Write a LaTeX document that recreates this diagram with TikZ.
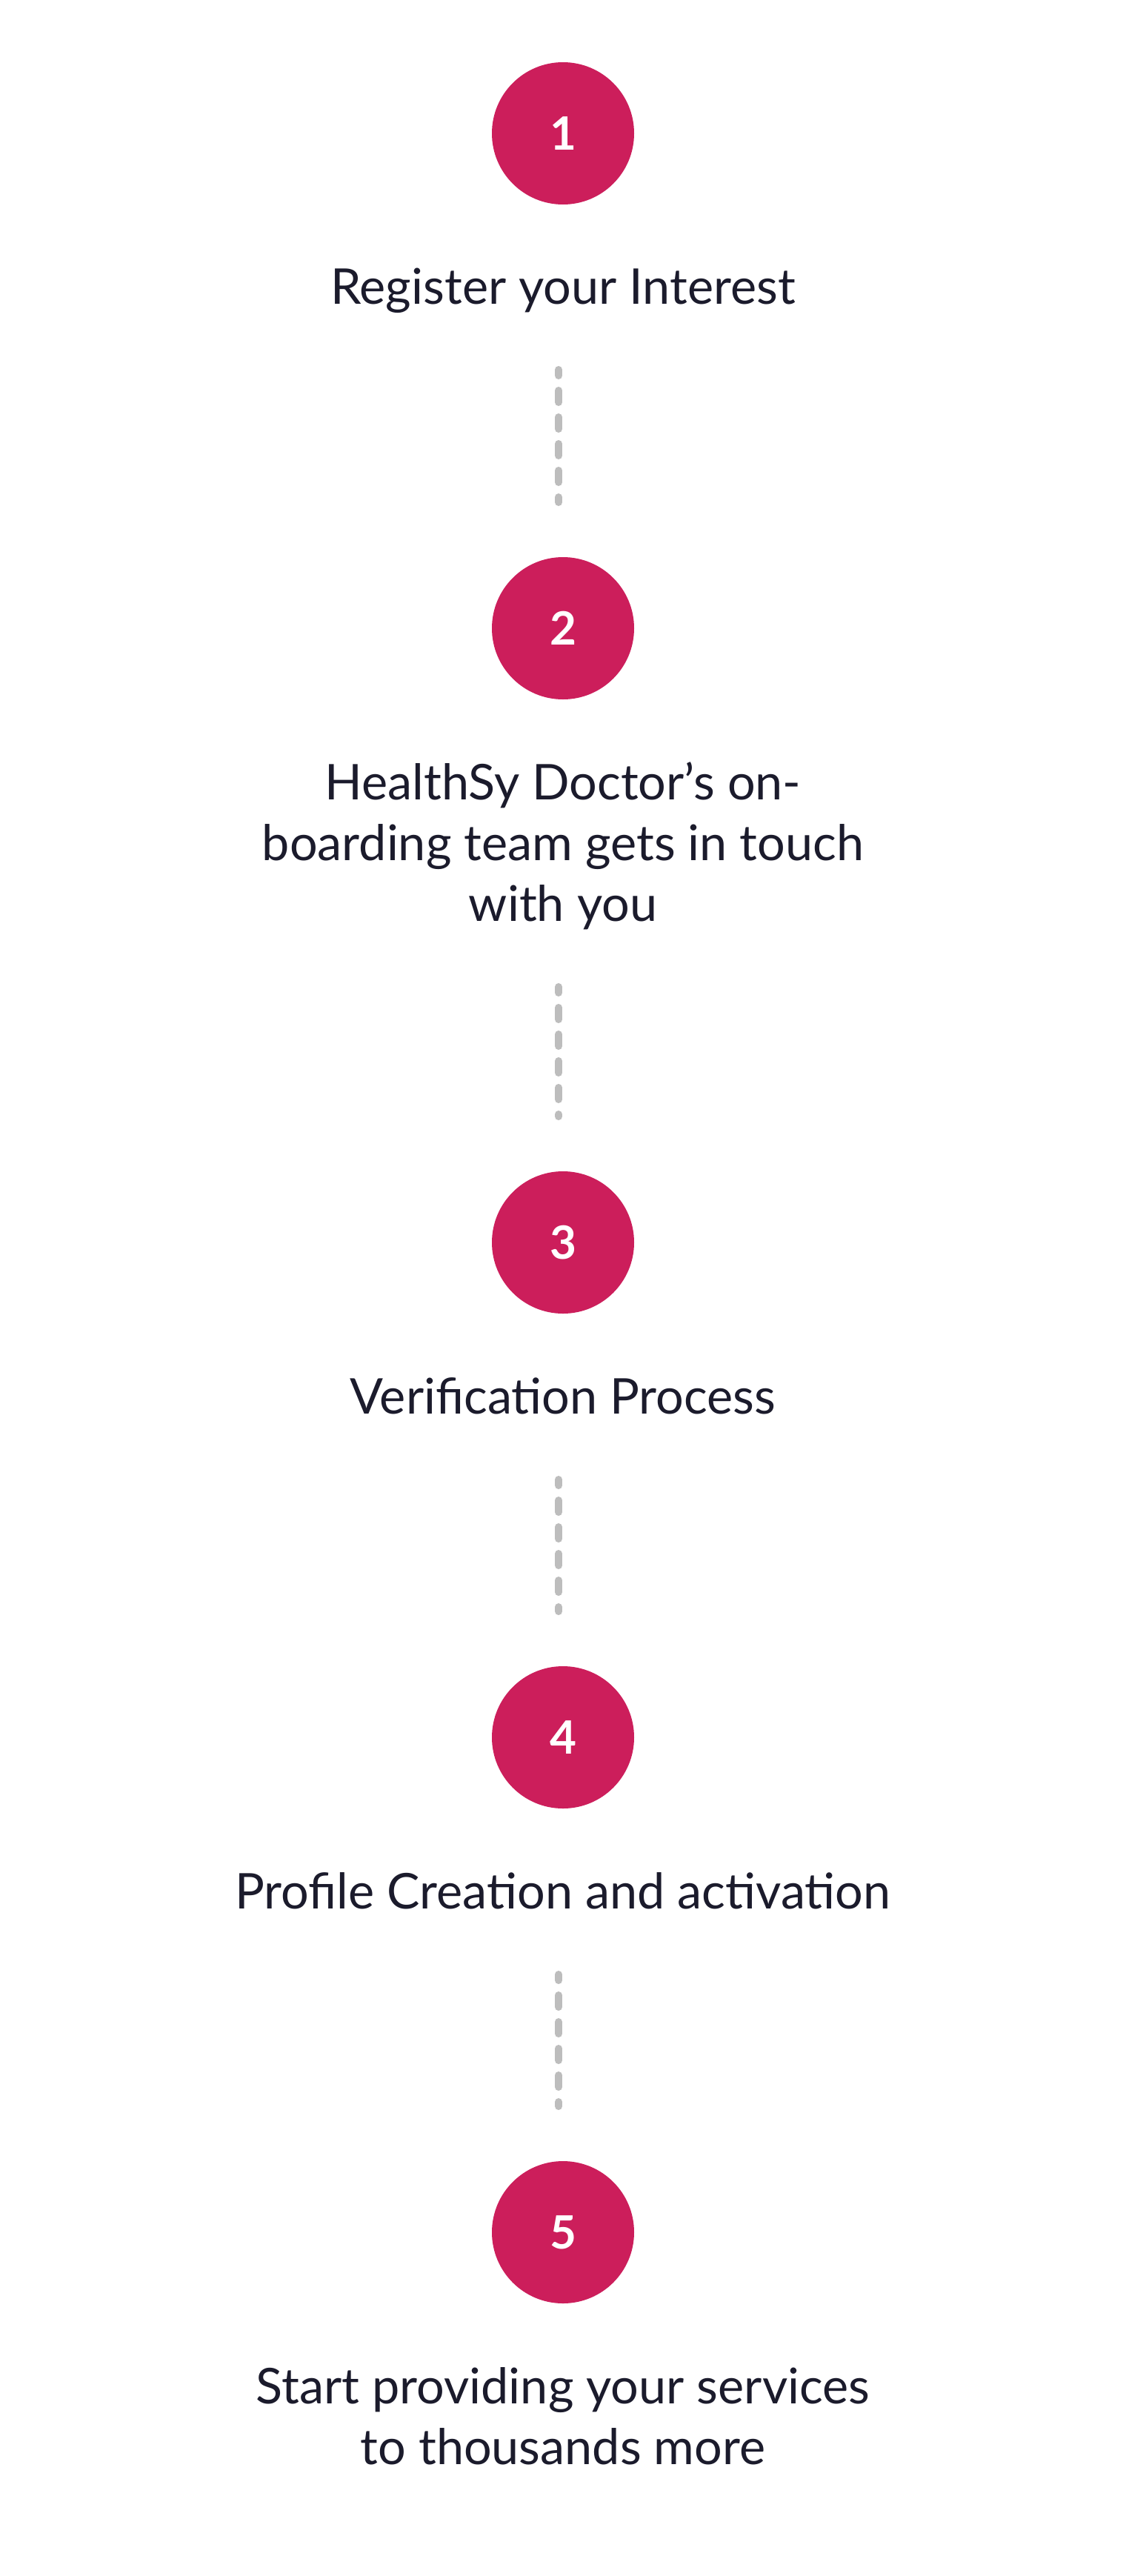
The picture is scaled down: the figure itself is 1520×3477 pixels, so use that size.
\documentclass[tikz,border=0pt]{standalone}
\usepackage{fontspec}
\setmainfont{Lato}
\newfontfamily\numfont{Lato}
\usetikzlibrary{calc}
\definecolor{pink}{RGB}{204,30,91}
\definecolor{ink}{RGB}{27,27,44}
\definecolor{dashgray}{RGB}{189,189,189}
\begin{document}
\begin{tikzpicture}[x=1pt,y=-1pt,
  stepcircle/.style={circle,fill=pink,draw=none,minimum size=192pt,inner sep=0pt},
  stepnum/.style={text=white,font=\numfont\bfseries\fontsize{62}{62}\selectfont,inner sep=0pt},
  steptext/.style={text=ink,font=\fontsize{66.5}{82}\selectfont,align=center,anchor=base,inner sep=0pt},
  conn/.style={draw=dashgray,line width=10pt,line cap=round,dash pattern=on 16pt off 20pt,dash phase=8pt}]
\useasboundingbox[fill=white] (0,0) rectangle (1520,3477);
% circles
\node[stepcircle] (c1) at (760,180) {};
\node[stepcircle] (c2) at (760,848) {};
\node[stepcircle] (c3) at (760,1677) {};
\node[stepcircle] (c4) at (760,2345) {};
\node[stepcircle] (c5) at (760,3013) {};
\node[stepnum] (n1) at (c1.center) {1};
\node[stepnum] (n2) at (c2.center) {2};
\node[stepnum] (n3) at (c3.center) {3};
\node[stepnum] (n4) at (c4.center) {4};
\node[stepnum] (n5) at (c5.center) {5};
% texts (base anchor = baseline of the last line)
\node[steptext] (t1) at (760,410) {Register your Interest};
\node[steptext] (t2) at (760,1243) {HealthSy Doctor’s on-\\boarding team gets in touch\\with you};
\node[steptext] (t3) at (760,1908) {Verification Process};
\node[steptext] (t4) at (760,2576) {Profile Creation and activation};
\node[steptext] (t5) at (760,3326) {Start providing your services\\to thousands more};
% connector end points
\coordinate (d1s) at (754,499);  \coordinate (d1e) at (754,678);
\coordinate (d2s) at (754,1332); \coordinate (d2e) at (754,1507);
\coordinate (d3s) at (754,1997); \coordinate (d3e) at (754,2175);
\coordinate (d4s) at (754,2665); \coordinate (d4e) at (754,2843);
\draw[conn] (d1s) -- (d1e);
\draw[conn] (d2s) -- (d2e);
\draw[conn] (d3s) -- (d3e);
\draw[conn] (d4s) -- (d4e);
\end{tikzpicture}
\end{document}
